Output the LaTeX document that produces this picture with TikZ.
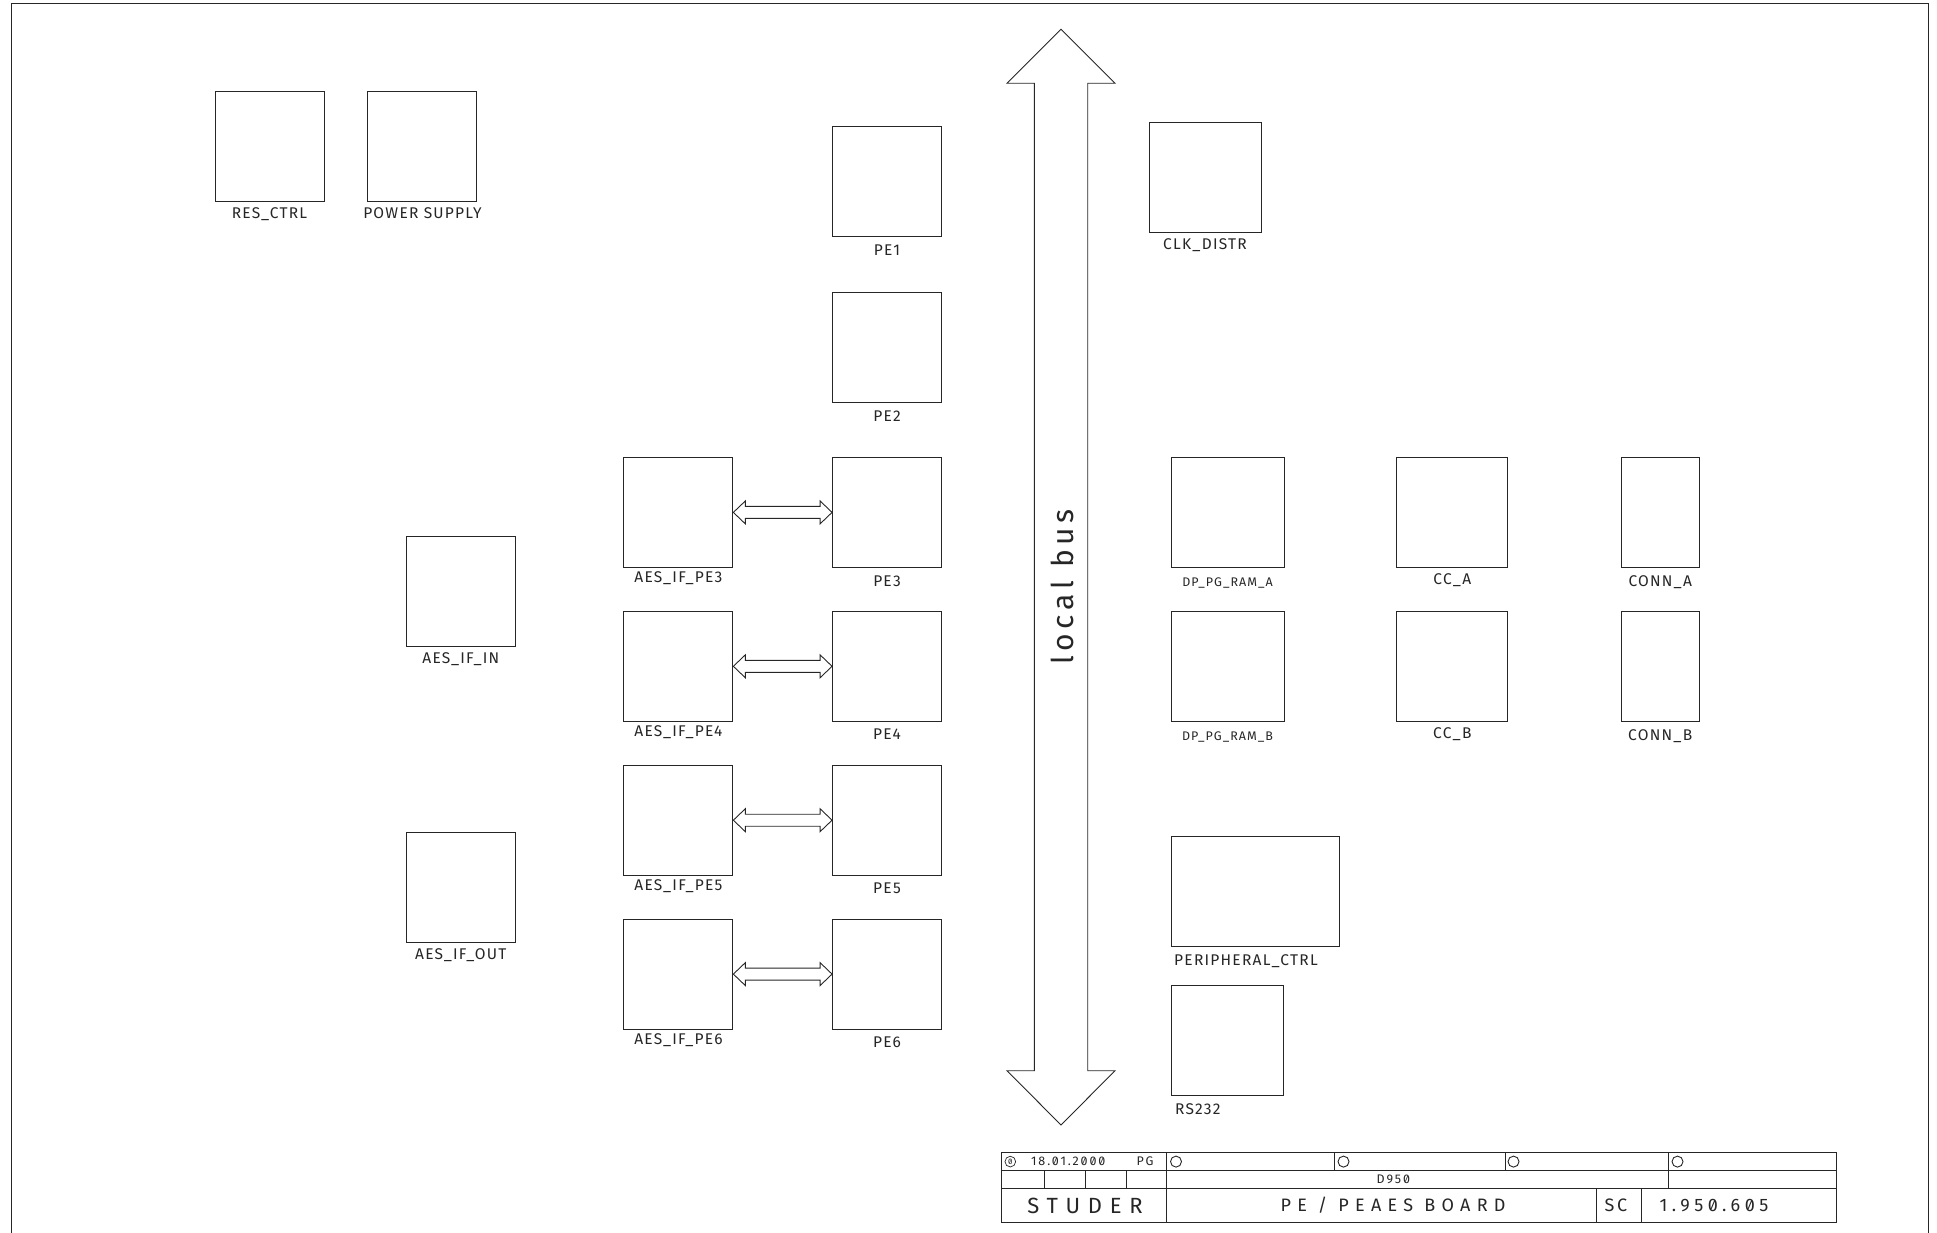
\documentclass[tikz,border=0pt]{standalone}
\usepackage{fontspec}
\setmainfont{Fira Sans}
\newfontfamily\plotfont{Fira Sans}[LetterSpace=8, RawFeature=+zero]
\usetikzlibrary{positioning, calc}

\newcommand\lblfont{\plotfont\fontsize{15.5}{17}\selectfont}
\newcommand\ramfont{\plotfont\fontsize{12.5}{14}\selectfont}
\newcommand\busfont{\plotfont\fontsize{30}{32}\selectfont\addfontfeatures{LetterSpace=16}}
\newcommand\tbsmall{\plotfont\fontsize{12.5}{14}\selectfont\addfontfeatures{LetterSpace=15}}
\newcommand\tbbig{\plotfont\fontsize{18}{20}\selectfont}

\tikzset{
  blk/.style={draw=black!85, line width=0.9pt, inner sep=0pt, minimum width=109pt, minimum height=110pt},
  every label/.style={font=\lblfont, text=black!85},
  tb/.style={draw=black!85, line width=0.9pt},
  dblarrow/.style={draw=black!85, line width=0.9pt, to path={
    let \p1=(\tikztostart), \p2=(\tikztotarget) in
    (\x1,\y1) -- (\x1+12pt,\y1+11.5pt) -- (\x1+12pt,\y1+6pt) -- (\x2-12pt,\y1+6pt)
    -- (\x2-12pt,\y1+11.5pt) -- (\x2,\y1) -- (\x2-12pt,\y1-11.5pt) -- (\x2-12pt,\y1-6pt)
    -- (\x1+12pt,\y1-6pt) -- (\x1+12pt,\y1-11.5pt) -- cycle}}
}

\begin{document}
\begin{tikzpicture}[x=1pt, y=-1pt, line join=miter, text=black!85]
\useasboundingbox (0,0) rectangle (1937,1233);

% sheet frame
\draw[tb] (11,1233) -- (11,3) -- (1928,3) -- (1928,1233);

% left column
\node[blk, label={[label distance=2pt]below:RES\_CTRL}] (res) at (269.5,146.5) {};
\node[blk, right=43pt of res, label={[label distance=2pt]below:POWER SUPPLY}] (power) {};
\node[blk, label={[label distance=2pt]below:AES\_IF\_IN}] (aesin) at (460.8,591.7) {};
\node[blk, below=185pt of aesin, label={[label distance=2pt]below:AES\_IF\_OUT}] (aesout) {};

% processing elements
\node[blk, label={[label distance=4pt]below:PE1}] (pe1) at (887,181.6) {};
\node[blk, below=55pt of pe1, label={[label distance=4pt]below:PE2}] (pe2) {};
\node[blk, below=54pt of pe2, label={[label distance=4pt]below:PE3}] (pe3) {};
\node[blk, below=43pt of pe3, label={[label distance=4pt]below:PE4}] (pe4) {};
\node[blk, below=43pt of pe4, label={[label distance=4pt]below:PE5}] (pe5) {};
\node[blk, below=43pt of pe5, label={[label distance=4pt]below:PE6}] (pe6) {};

% AES interfaces of the PEs
\node[blk, left=98.7pt of pe3, label={[label distance=0.5pt]below:AES\_IF\_PE3}] (aes3) {};
\node[blk, left=98.7pt of pe4, label={[label distance=0.5pt]below:AES\_IF\_PE4}] (aes4) {};
\node[blk, left=98.7pt of pe5, label={[label distance=0.5pt]below:AES\_IF\_PE5}] (aes5) {};
\node[blk, left=98.7pt of pe6, label={[label distance=0.5pt]below:AES\_IF\_PE6}] (aes6) {};

% right side
\node[blk, minimum width=112pt, label={[label distance=2pt]below:CLK\_DISTR}] (clk) at (1205,177.3) {};
\node[blk, minimum width=113pt, label={[label distance=6pt, font=\ramfont]below:DP\_PG\_RAM\_A}] (dpa) at (1227.5,512.5) {};
\node[blk, minimum width=113pt, below=43pt of dpa, label={[label distance=6pt, font=\ramfont]below:DP\_PG\_RAM\_B}] (dpb) {};
\node[blk, minimum width=111pt, right=111.9pt of dpa, label={[label distance=2pt]below:CC\_A}] (cca) {};
\node[blk, minimum width=111pt, below=43pt of cca, label={[label distance=2pt]below:CC\_B}] (ccb) {};
\node[blk, minimum width=78pt, right=112.5pt of cca, label={[label distance=4.5pt]below:CONN\_A}] (conna) {};
\node[blk, minimum width=78pt, below=43pt of conna, label={[label distance=4.5pt]below:CONN\_B}] (connb) {};
\node[blk, minimum width=168pt, below=114pt of dpb.south west, anchor=north west,
  label={[label distance=7pt, anchor=north west, xshift=6pt]south west:PERIPHERAL\_CTRL}] (periph) {};
\node[blk, minimum width=112.6pt, below=38pt of periph.south west, anchor=north west,
  label={[label distance=7pt, anchor=north west, xshift=6pt]south west:RS232}] (rs) {};

% AES links
\draw[dblarrow] (aes3.east) to (pe3.west);
\draw[dblarrow] (aes4.east) to (pe4.west);
\draw[dblarrow] (aes5.east) to (pe5.west);
\draw[dblarrow] (aes6.east) to (pe6.west);

% local bus
\draw[tb] (1061,29.3) -- (1115,83.3) -- (1087.7,83.3) -- (1087.7,1070.7) -- (1115,1070.7)
  -- (1061,1125) -- (1007,1070.7) -- (1034.3,1070.7) -- (1034.3,83.3) -- (1007,83.3) -- cycle;
\node[rotate=90, font=\busfont] (bus) at (1062,587) {local bus};

% title block
\draw[tb] (1001,1152.7) rectangle (1836.7,1222.7);
\draw[tb] (1001,1170.5) -- (1836.7,1170.5);
\draw[tb] (1001,1188.3) -- (1836.7,1188.3);
\draw[tb] (1166.7,1152.7) -- (1166.7,1222.7);
\draw[tb] (1044,1170.5) -- (1044,1188.3) (1085,1170.5) -- (1085,1188.3) (1126,1170.5) -- (1126,1188.3);
\draw[tb] (1334,1152.7) -- (1334,1170.5) (1505,1152.7) -- (1505,1170.5);
\draw[tb] (1668.3,1152.7) -- (1668.3,1188.3);
\draw[tb] (1596.7,1188.3) -- (1596.7,1222.7) (1641.7,1188.3) -- (1641.7,1222.7);
\draw[tb] (1176,1161.6) circle[radius=5.5] (1343.5,1161.6) circle[radius=5.5]
  (1513.5,1161.6) circle[radius=5.5] (1677.5,1161.6) circle[radius=5.5];

\node[tb, circle, minimum size=10.7pt, inner sep=0pt, line width=0.7pt,
  font=\plotfont\fontsize{8}{8}\selectfont] (rev) at (1010.3,1161.6) {0};
\node[font=\tbsmall] (date) at (1068.3,1161.6) {18.01.2000};
\node[font=\tbsmall] (drawer) at (1145,1161.6) {PG};
\node[font=\tbsmall] (device) at (1393.3,1179.4) {D950};
\node[font={\plotfont\fontsize{22}{24}\selectfont\addfontfeatures{LetterSpace=35}}] (firm) at (1085,1205.5) {STUDER};
\node[font={\tbbig\addfontfeatures{LetterSpace=35}}] (board) at (1393,1205.5) {PE / PEAES BOARD};
\node[font={\tbbig\addfontfeatures{LetterSpace=15}}] (sc) at (1616,1205.5) {SC};
\node[font={\tbbig\addfontfeatures{LetterSpace=25}}] (docno) at (1714,1205.5) {1.950.605};

\end{tikzpicture}
\end{document}
